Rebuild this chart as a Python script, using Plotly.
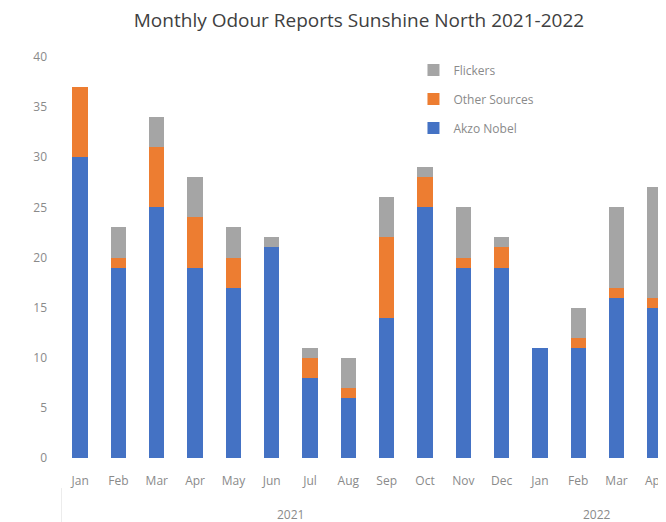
import plotly.graph_objects as go

years = ["2021"] * 12 + ["2022"] * 4
months = ["Jan", "Feb", "Mar", "Apr", "May", "Jun", "Jul", "Aug", "Sep", "Oct", "Nov", "Dec",
          "Jan", "Feb", "Mar", "Apr"]
akzo_nobel = [30, 19, 25, 19, 17, 21, 8, 6, 14, 25, 19, 19, 11, 11, 16, 15]
other_sources = [7, 1, 6, 5, 3, 0, 2, 1, 8, 3, 1, 2, 0, 1, 1, 1]
flickers = [0, 3, 3, 4, 3, 1, 1, 3, 4, 1, 5, 1, 0, 3, 8, 11]
year_labels = ["2021", "2022"]

FONT = "Open Sans, Lato, sans-serif"
TXT = "#8a8a8a"

cats = [f"{m} {y}" for m, y in zip(months, years)]

fig = go.Figure()
for name, vals, col, rank in [
    ("Akzo Nobel", akzo_nobel, "#4472C4", 3),
    ("Other Sources", other_sources, "#ED7D31", 2),
    ("Flickers", flickers, "#A5A5A5", 1),
]:
    fig.add_trace(go.Bar(x=cats, y=vals, name=name, marker_color=col,
                         marker_line_width=0, legendrank=rank, legendgroup=name))

# year group labels centred over their months
for yl in year_labels:
    idx = [i for i, y in enumerate(years) if y == yl]
    fig.add_annotation(x=(idx[0] + idx[-1]) / 2, y=-0.14, xref="x", yref="paper",
                       text=yl, showarrow=False, font=dict(size=12, color=TXT),
                       yanchor="middle")

fig.add_shape(type="line", xref="x", yref="paper", x0=-0.5, x1=-0.5, y0=-0.075, y1=-0.2,
              line=dict(color="#d9d9d9", width=1))

fig.update_layout(
    width=666, height=522,
    barmode="stack", bargap=0.6,
    plot_bgcolor="white", paper_bgcolor="white",
    margin=dict(l=53, r=0, t=49, b=72, autoexpand=False),
    font=dict(family=FONT, size=12, color=TXT),
    title=dict(text="Monthly Odour Reports Sunshine North 2021-2022",
               x=0.527, xanchor="center", y=0.977, yanchor="middle",
               font=dict(family=FONT, size=19, color="#404040")),
    legend=dict(x=0.575, y=1.004, xanchor="left", yanchor="top",
                traceorder="grouped", tracegroupgap=10,
                font=dict(size=12, color=TXT), bgcolor="rgba(0,0,0,0)",
                itemwidth=30),
    showlegend=True,
)
fig.update_yaxes(range=[0, 40], dtick=5, showgrid=False, zeroline=False,
                 showline=False, ticks="", ticklabelstandoff=13, automargin=False,
                 tickfont=dict(size=12, color=TXT))
fig.update_xaxes(type="category", range=[-0.5, 15.5], showgrid=False,
                 showline=False, ticks="", automargin=False,
                 tickmode="array", tickvals=cats, ticktext=months,
                 ticklabelstandoff=14, tickangle=0,
                 tickfont=dict(size=12, color=TXT))

fig.write_html("out.html")
